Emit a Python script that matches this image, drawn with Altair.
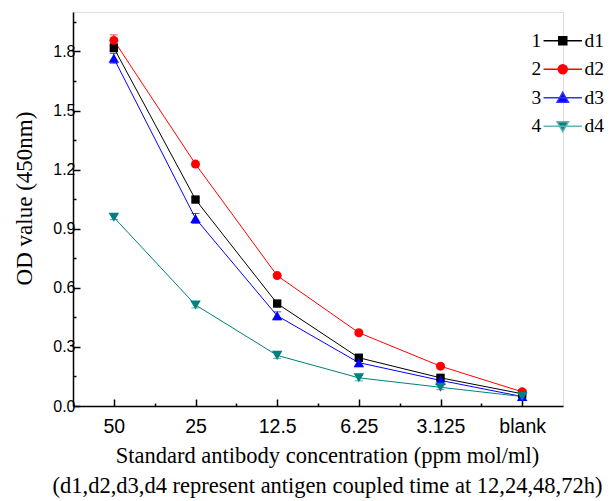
import json
import altair as alt
import pandas as pd

# ---- data ----
conc = ["50", "25", "12.5", "6.25", "3.125", "blank"]
series = ["d1", "d2", "d3", "d4"]
nums = ["1", "2", "3", "4"]

d1 = [1.818, 1.048, 0.520, 0.245, 0.143, 0.062]
d2 = [1.856, 1.228, 0.662, 0.372, 0.202, 0.072]
d3 = [1.765, 0.952, 0.458, 0.220, 0.130, 0.048]
d4 = [0.958, 0.513, 0.257, 0.143, 0.095, 0.048]

e1 = [0.020, 0.010, 0.015, 0.015, 0.012, 0.008]
e2 = [0.028, 0.012, 0.010, 0.010, 0.010, 0.010]
e3 = [0.025, 0.025, 0.020, 0.020, 0.015, 0.008]
e4 = [0.012, 0.015, 0.015, 0.015, 0.012, 0.010]

colors = ["#000000", "#ff0000", "#0000ff", "#008080"]
legend_line_colors = ["#000000", "#ff0000", "#3333ff", "#66b3b3"]
shapes = ["square", "circle", "triangle-up", "triangle-down"]
shape_sizes = [70, 80, 110, 110]
legend_paths = [
    "M-3.2,0H3.2M-0.67,-0.67H0.67V0.67H-0.67Z",
    "M-3.2,0H3.2M-0.75,0A0.75,0.75,0,1,0,0.75,0A0.75,0.75,0,1,0,-0.75,0Z",
    "M-3.2,0H3.2M0,-0.9L0.95,0.75H-0.95Z",
    "M-3.2,0H3.2M0,0.9L0.95,-0.75H-0.95Z",
]

rows = []
for s, vals, errs in zip(series, [d1, d2, d3, d4], [e1, e2, e3, e4]):
    for i, (c, v, e) in enumerate(zip(conc, vals, errs)):
        rows.append(dict(series=s, conc=c, pos=i + 0.5, od=v, lo=v - e, hi=v + e))
df = pd.DataFrame(rows)
leg_df = pd.DataFrame({"series": series, "num": nums})

SANS = "Liberation Sans"
SERIF = "Liberation Serif"
TFS = 22.5

x_values = [i * 0.5 for i in range(1, 12)]
y_values = [round(i * 0.15, 2) for i in range(14)]

xaxis = alt.Axis(
    values=x_values,
    labelExpr="round(datum.value*2) % 2 == 1 ? " + json.dumps(conc) + "[floor(datum.value)] : ''",
    tickSize={"condition": {"test": "round(datum.value*2) % 2 == 1", "value": -7}, "value": -3},
    labelPadding=18,
    labelFont=SANS, labelFontSize=19.5, labelColor="black",
    labelBaseline="top",
    tickColor="black", tickWidth=1.5,
    domainColor="black", domainWidth=1.5,
    grid=False,
    title=["Standard antibody concentration (ppm mol/ml)",
           "(d1,d2,d3,d4 represent antigen coupled time at 12,24,48,72h)"],
    titleFont=SERIF, titleFontSize=TFS, titleFontWeight="normal", titleColor="black",
    titleX=254, titleY=56, titleAlign="center", titleBaseline="alphabetic",
    titleLineHeight=30,
)
yaxis = alt.Axis(
    values=y_values,
    labelExpr="round(datum.value*100) % 30 == 0 ? format(datum.value, '.1f') : ''",
    tickSize={"condition": {"test": "round(datum.value*100) % 30 == 0", "value": -7}, "value": -3},
    labelPadding=5,
    labelFont=SANS, labelFontSize=16, labelColor="black",
    tickColor="black", tickWidth=1.5,
    domainColor="black", domainWidth=1.5,
    grid=False,
    title="OD value (450nm)",
    titleFont=SERIF, titleFontSize=23, titleFontWeight="normal", titleColor="black",
    titleX=-49, titleY=186, titleAlign="center", titleBaseline="middle", titleAngle=270,
)

xs = alt.Scale(domain=[0, 6], nice=False, zero=False)
ys = alt.Scale(domain=[0, 2], nice=False, zero=True)
cs = alt.Scale(domain=series, range=colors)

base = alt.Chart(df)
X = alt.X("pos:Q", scale=xs, axis=xaxis)
C = alt.Color("series:N", scale=cs, legend=None)

lines = base.mark_line(strokeWidth=1).encode(
    x=X, y=alt.Y("od:Q", scale=ys, axis=yaxis), color=C, detail="series:N"
)
err_rule = base.mark_rule(strokeWidth=1).encode(
    x=X, y=alt.Y("lo:Q", scale=ys, axis=yaxis), y2="hi:Q", color=C
)
cap_lo = base.mark_tick(orient="horizontal", size=8, thickness=1).encode(
    x=X, y=alt.Y("lo:Q", scale=ys, axis=yaxis), color=C
)
cap_hi = base.mark_tick(orient="horizontal", size=8, thickness=1).encode(
    x=X, y=alt.Y("hi:Q", scale=ys, axis=yaxis), color=C
)

point_layers = []
for s, shp, sz in zip(series, shapes, shape_sizes):
    point_layers.append(
        base.transform_filter(alt.datum.series == s)
        .mark_point(filled=True, shape=shp, size=sz, opacity=1)
        .encode(x=X, y=alt.Y("od:Q", scale=ys, axis=yaxis), color=C)
    )

leg1 = alt.Legend(
    orient="none", legendX=480, legendY=19, title=None,
    labelFont=SERIF, labelFontSize=19.5, labelColor="black",
    symbolSize=144, symbolStrokeWidth=1.5, labelOffset=12, symbolOpacity=1,
    rowPadding=7.5, padding=0,
)
leg2 = alt.Legend(
    orient="none", legendX=439, legendY=19, title=None,
    labelFont=SERIF, labelFontSize=19.5, labelColor="black",
    symbolSize=0, symbolStrokeWidth=0, labelOffset=0,
    rowPadding=7.5, padding=0,
)

legend_layer = alt.Chart(leg_df).transform_filter("false").mark_point(filled=True, opacity=1).encode(
    shape=alt.Shape("series:N", scale=alt.Scale(domain=series, range=legend_paths), legend=leg1),
    fill=alt.Fill("series:N", scale=alt.Scale(domain=series, range=colors), legend=leg1),
    stroke=alt.Stroke("series:N", scale=alt.Scale(domain=series, range=legend_line_colors), legend=leg1),
)
num_layer = alt.Chart(leg_df).transform_filter("false").mark_point(filled=True).encode(
    opacity=alt.Opacity("num:N", scale=alt.Scale(domain=nums, range=[1, 1, 1, 1]), legend=leg2),
)

chart = alt.layer(
    lines, err_rule, cap_lo, cap_hi, *point_layers, legend_layer, num_layer
).resolve_legend(
    opacity="independent", shape="independent", fill="independent", stroke="independent"
).properties(
    width=490,
    height=394,
    autosize=alt.AutoSizeParams(type="none"),
    padding={"left": 65, "top": 4, "right": 44, "bottom": 95},
).configure_view(stroke=None).configure(background="white")

chart.save("out.html", embed_options={"renderer": "svg", "actions": False})
